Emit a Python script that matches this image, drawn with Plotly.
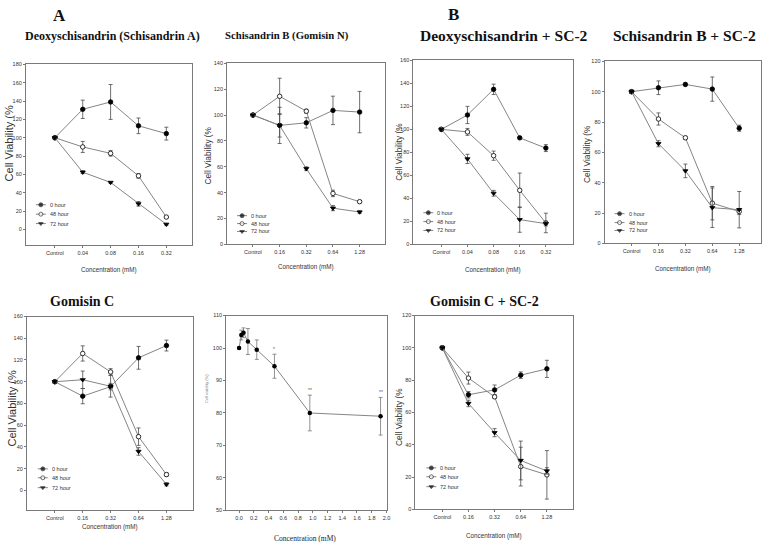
import plotly.graph_objects as go

W, H = 771, 551
SANS = "Liberation Sans, Arial"
NARROW = SANS
SERIF = "Liberation Serif, Times New Roman, serif"

series_names = ["0 hour", "48 hour", "72 hour"]
cats_a = ["Control", "0.04", "0.08", "0.16", "0.32"]
cats_b = ["Control", "0.16", "0.32", "0.64", "1.28"]

# Panel 1: Deoxyschisandrin (Schisandrin A)
p1_0h = [100, 131, 139, 113, 104.5]
p1_0h_err = [1, 10, 19, 8.5, 7]
p1_48h = [100, 90, 83, 58.5, 13.6]
p1_48h_err = [1, 6, 3, 2.5, 1]
p1_72h = [100, 62.5, 51.3, 28, 5.7]
p1_72h_err = [1, 1.5, 1, 2.5, 1]

# Panel 2: Schisandrin B (Gomisin N)
p2_0h = [100, 92, 94, 103.6, 102.3]
p2_0h_err = [1, 14, 4, 11, 16]
p2_48h = [100, 114.5, 103, 39.4, 33]
p2_48h_err = [1, 14, 1.5, 2.5, 1]
p2_72h = [100, 92, 58.5, 28, 25]
p2_72h_err = [1, 9, 1.5, 2, 1]

# Panel 3: Deoxyschisandrin + SC-2
p3_0h = [100, 112.5, 134.8, 92.6, 83.7]
p3_0h_err = [1, 7.5, 4.5, 1, 3]
p3_48h = [100, 97.8, 77.1, 47, 18.6]
p3_48h_err = [1, 3, 4, 15, 8.5]
p3_72h = [100, 74.3, 44.4, 21.5, 18]
p3_72h_err = [1, 4, 2.5, 11, 2]

# Panel 4: Schisandrin B + SC-2
p4_0h = [100, 102.6, 104.8, 101.7, 75.9]
p4_0h_err = [1, 4.5, 1, 8, 2]
p4_48h = [100, 82, 69.6, 26.5, 21]
p4_48h_err = [1, 4, 1, 11, 2]
p4_72h = [100, 65.7, 47.8, 23.5, 22.2]
p4_72h_err = [1, 2, 4.5, 13, 12]

# Panel 5: Gomisin C
p5_0h = [100, 86.7, 95.5, 122, 133.3]
p5_0h_err = [1, 7, 3, 10.5, 5]
p5_48h = [100, 126, 109, 49.4, 14.5]
p5_48h_err = [1, 7, 3, 8, 1.5]
p5_72h = [100, 101.8, 95.8, 35.8, 5.5]
p5_72h_err = [1, 8, 10, 3.5, 1.5]

# Panel 6: dose-response (continuous concentration)
conc6 = [0.0, 0.03, 0.06, 0.12, 0.24, 0.48, 0.96, 1.92]
via6 = [100, 104, 104.7, 102, 99.5, 94.4, 80, 79]
err6 = [0.4, 1.5, 1.5, 4, 3, 3.7, 5.5, 5.8]
sig6 = ["", "", "", "", "", "*", "**", "**"]
ticks6 = [0.0, 0.2, 0.4, 0.6, 0.8, 1.0, 1.2, 1.4, 1.6, 1.8, 2.0]

# Panel 7: Gomisin C + SC-2
p7_0h = [100, 71, 74, 83.1, 87]
p7_0h_err = [1, 2, 3, 2, 5.3]
p7_48h = [100, 81.3, 69.7, 26.5, 21.4]
p7_48h_err = [1, 3.7, 1, 12, 15]
p7_72h = [100, 65.6, 47.5, 30.3, 23.8]
p7_72h_err = [1, 2, 2.5, 12, 2]

panels = [
    dict(cats=cats_a, data=[(p1_0h, p1_0h_err), (p1_48h, p1_48h_err), (p1_72h, p1_72h_err)],
         title="Deoxyschisandrin (Schisandrin A)", txy=(113, 33), tsize=12,
         yt=(9, 142), ytsize=11, xty=270, frame=(26, 62, 193, 245), xr=[-1.04, 4.93], yr=[-17.2, 180], dt=20,
         leg=(36, 46, [204, 213.5, 223])),
    dict(cats=cats_b, data=[(p2_0h, p2_0h_err), (p2_48h, p2_48h_err), (p2_72h, p2_72h_err)],
         title="Schisandrin B (Gomisin N)", txy=(288, 33), tsize=10.7,
         yt=(209, 154), ytsize=8.3, xty=267, frame=(228, 61, 387, 244), xr=[-0.97, 4.97], yr=[0, 140], dt=20,
         leg=(238, 248, [215, 223, 231])),
    dict(cats=cats_a, data=[(p3_0h, p3_0h_err), (p3_48h, p3_48h_err), (p3_72h, p3_72h_err)],
         title="Deoxyschisandrin + SC-2", txy=(506, 33), tsize=15.5,
         yt=(401, 150), ytsize=8.3, xty=270, frame=(415, 58, 575, 244), xr=[-1.07, 5.03], yr=[0, 160], dt=20,
         leg=(425, 435, [212, 221, 230])),
    dict(cats=cats_b, data=[(p4_0h, p4_0h_err), (p4_48h, p4_48h_err), (p4_72h, p4_72h_err)],
         title="Schisandrin B + SC-2", txy=(687, 33), tsize=15.5,
         yt=(590, 153), ytsize=8.3, xty=269, frame=(607, 59, 764, 243), xr=[-1.0, 4.81], yr=[0, 120], dt=20,
         leg=(617, 627, [213, 222, 230])),
    dict(cats=cats_b, data=[(p5_0h, p5_0h_err), (p5_48h, p5_48h_err), (p5_72h, p5_72h_err)],
         title="Gomisin C", txy=(82, 302), tsize=14,
         yt=(12, 410), ytsize=11, xty=530, frame=(27, 317, 194, 513), xr=[-1.0, 4.96], yr=[-18.5, 160], dt=20,
         leg=(38, 48, [471, 480, 490])),
    None,
    dict(cats=cats_b, data=[(p7_0h, p7_0h_err), (p7_48h, p7_48h_err), (p7_72h, p7_72h_err)],
         title="Gomisin C + SC-2", txy=(486, 302), tsize=14,
         yt=(401, 418), ytsize=8.3, xty=539, frame=(417, 316, 575, 512), xr=[-1.03, 4.99], yr=[0, 120], dt=20,
         leg=(428, 438, [470, 479, 489])),
]

LINE_C = "#858585"
ERR_C = "#4a4a4a"
FRAME_C = "#7a7a7a"
symbols = ["circle", "circle", "triangle-down"]
fills = ["black", "white", "black"]


def dx(l, r):
    return [l / W, r / W]


def dy(t, b):
    return [1 - b / H, 1 - t / H]


def note(text, px, py, size, family=SANS, color="#333", angle=0, xanchor="center"):
    return dict(text=text, x=px / W, y=1 - py / H, xref="paper", yref="paper", showarrow=False,
                xanchor=xanchor, yanchor="middle", textangle=angle,
                font=dict(family=family, size=size, color=color))


fig = go.Figure()
layout = dict(width=W, height=H, margin=dict(l=0, r=0, t=0, b=0, pad=0),
              paper_bgcolor="white", plot_bgcolor="rgba(0,0,0,0)", showlegend=False)
annotations = []

axis_common = dict(showline=True, linecolor=FRAME_C, linewidth=1, mirror=True, ticks="outside",
                   ticklen=2, tickcolor=FRAME_C, tickwidth=0.8, showgrid=False, zeroline=False,
                   tickfont=dict(family=NARROW, size=5.5, color="#333"))

for i, p in enumerate(panels):
    if p is None:
        continue
    n = i + 1
    xa = "x" if n == 1 else f"x{n}"
    ya = "y" if n == 1 else f"y{n}"
    xk = "xaxis" if n == 1 else f"xaxis{n}"
    yk = "yaxis" if n == 1 else f"yaxis{n}"
    l, t, r, b = p["frame"]
    layout[xk] = dict(axis_common, domain=dx(l, r), anchor=ya, type="category",
                      categoryorder="array", categoryarray=p["cats"], range=p["xr"])
    layout[yk] = dict(axis_common, domain=dy(t, b), anchor=xa, range=p["yr"], dtick=p["dt"], tick0=0)
    for k, (vals, err) in enumerate(p["data"]):
        fig.add_trace(go.Scatter(
            x=p["cats"], y=vals, xaxis=xa, yaxis=ya, mode="lines+markers", name=series_names[k],
            line=dict(color=LINE_C, width=1),
            marker=dict(symbol=symbols[k], size=4.5, color=fills[k], line=dict(color="black", width=0.8)),
            error_y=dict(type="data", array=err, color=ERR_C, thickness=0.8, width=2),
        ))
    annotations.append(note(f"<b>{p['title']}</b>", p["txy"][0], p["txy"][1], p["tsize"], SERIF, "#111"))
    annotations.append(note("Cell Viability (%", p["yt"][0], p["yt"][1], p["ytsize"], SANS, "#333", -90))
    annotations.append(note("Concentration (mM)", (l + r) / 2, p["xty"], 6.3, NARROW, "#333"))

# Panel 6
l, t, r, b = 227, 316, 389, 513
layout["xaxis6"] = dict(axis_common, domain=dx(l, r), anchor="y6", range=[-0.176, 2.014],
                        tickvals=ticks6, ticktext=[f"{v:.1f}" for v in ticks6])
layout["yaxis6"] = dict(axis_common, domain=dy(t, b), anchor="x6", range=[50, 110], dtick=10, tick0=50)
fig.add_trace(go.Scatter(
    x=conc6, y=via6, xaxis="x6", yaxis="y6", mode="lines+markers",
    line=dict(color=LINE_C, width=1),
    marker=dict(symbol="circle", size=4.5, color="black"),
    error_y=dict(type="data", array=err6, color="#777", thickness=0.8, width=2),
))
for c, v, e, s in zip(conc6, via6, err6, sig6):
    if s:
        annotations.append(dict(text=s, x=c, y=v + e, xref="x6", yref="y6", showarrow=False,
                                xanchor="center", yanchor="bottom", yshift=0,
                                font=dict(family=SANS, size=5, color="#555")))
annotations.append(note("Concentration (mM)", 306, 541, 7.5, SERIF, "#222"))
annotations.append(note("Cell viability (%)", 208, 390, 4, SANS, "#777", -90))

# Section labels
annotations.append(note("<b>A</b>", 60, 13, 17, SERIF, "#111"))
annotations.append(note("<b>B</b>", 455, 12, 17, SERIF, "#111"))

# Legend keys drawn on a hidden full-page pixel axis
layout["xaxis8"] = dict(domain=[0, 1], range=[0, W], visible=False, anchor="y8")
layout["yaxis8"] = dict(domain=[0, 1], range=[H, 0], visible=False, anchor="x8")
for p in panels:
    if p is None:
        continue
    x0, x1, rows = p["leg"]
    for k, yy in enumerate(rows):
        fig.add_trace(go.Scatter(
            x=[x0, (x0 + x1) / 2, x1], y=[yy, yy, yy], xaxis="x8", yaxis="y8", mode="lines+markers",
            line=dict(color=LINE_C, width=1), hoverinfo="skip",
            marker=dict(symbol=symbols[k], size=[0, 4, 0], color=fills[k], line=dict(color="black", width=0.8)),
        ))
        annotations.append(note(series_names[k], x1 + 2, yy, 5.5, NARROW, "#333", 0, "left"))

layout["annotations"] = annotations
fig.update_layout(**layout)
fig.write_html("out.html", config={"responsive": False, "displayModeBar": False},
               post_script="document.body.style.margin='0px';document.body.style.overflow='hidden';")
